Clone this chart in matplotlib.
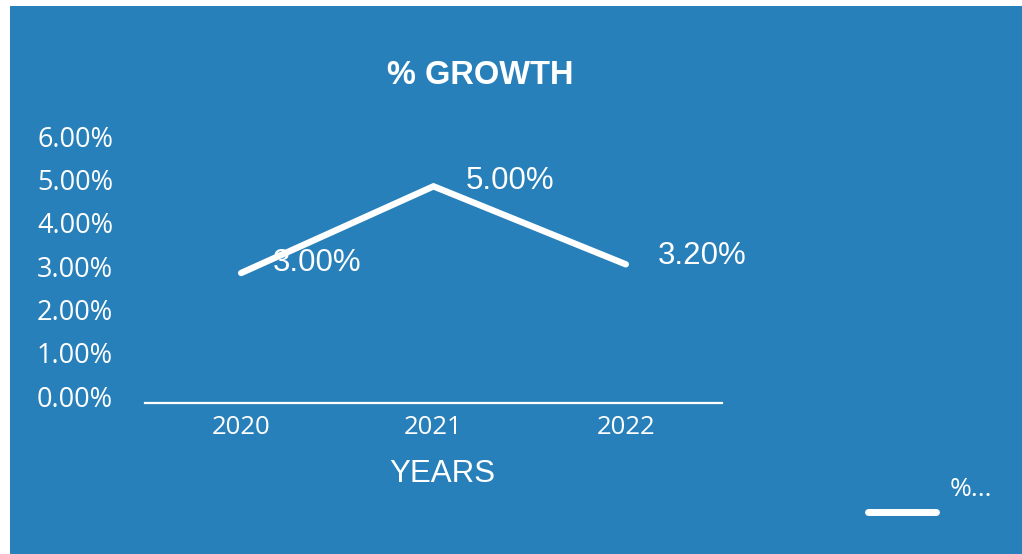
import matplotlib
matplotlib.use("Agg")
import matplotlib.pyplot as plt
from matplotlib.patches import Rectangle
from matplotlib.ticker import FuncFormatter
from matplotlib.transforms import ScaledTranslation
from matplotlib.legend_handler import HandlerLine2D

years = ["2020", "2021", "2022"]
growth = [3.00, 5.00, 3.20]
growth_labels = ["3.00%", "5.00%", "3.20%"]
y_ticks = [0, 1, 2, 3, 4, 5, 6]
series_name = "%..."

BLUE = "#2880BA"
W = 1022
H = 554
fig = plt.figure(figsize=(W / 100, H / 100), dpi=100, facecolor="white")
bg = Rectangle((10 / W, 0), 1 - 10 / W, 1 - 6 / H,
               transform=fig.transFigure, facecolor=BLUE,
               edgecolor="none", zorder=-10)
fig.add_artist(bg)

ax = fig.add_axes([145 / W, 1 - 403 / H, (722 - 145) / W, (403 - 143) / H])
ax.set_zorder(1)
ax.set_facecolor("none")
x = list(range(len(years)))
ax.plot(x, growth, color="white", lw=4.6, solid_capstyle="round",
        solid_joinstyle="miter", label=series_name)
ax.set_xlim(-0.5, len(years) - 0.5)
ax.set_ylim(0, 6)
ax.set_yticks(y_ticks)
ax.yaxis.set_major_formatter(FuncFormatter(lambda v, p: f"{v:.2f}%"))
ax.set_xticks(x)
ax.set_xticklabels(years)

for s in ["top", "right", "left"]:
    ax.spines[s].set_visible(False)
ax.spines["bottom"].set_color("white")
ax.spines["bottom"].set_linewidth(1.6)
ax.tick_params(axis="both", length=0, colors="white")
ax.tick_params(axis="y", pad=23)
ax.tick_params(axis="x", pad=9)
for t in ax.get_yticklabels():
    t.set_fontfamily("Open Sans")
    t.set_fontsize(19.5)
    t.set_transform(t.get_transform() + ScaledTranslation(0, 5 / 72, fig.dpi_scale_trans))
for t in ax.get_xticklabels():
    t.set_fontfamily("Open Sans")
    t.set_fontsize(18.5)

ax.set_xlabel("YEARS", color="white", fontsize=22.5, family="Liberation Sans")
ax.xaxis.set_label_coords(0.516, -0.215)

offsets = [(23, 7), (23, 4), (23, 6)]
for xi, yi, lab, off in zip(x, growth, growth_labels, offsets):
    ax.annotate(lab, (xi, yi), xytext=off, textcoords="offset points",
                color="white", fontsize=22.5, family="Liberation Sans",
                ha="left", va="center")

fig.text(480 / W, 1 - 75 / H, "% GROWTH", color="white", fontsize=23.5,
         fontweight="bold", family="Liberation Sans", ha="center", va="center")


class LowLine(HandlerLine2D):
    def create_artists(self, legend, orig_handle, xdescent, ydescent, width,
                       height, fontsize, trans):
        arts = super().create_artists(legend, orig_handle, xdescent, ydescent,
                                      width, height, fontsize, trans)
        for a in arts:
            a.set_ydata([v - 17.5 for v in a.get_ydata()])
        return arts


leg = fig.legend(loc="center left", bbox_to_anchor=(844 / W, 1 - 490 / H),
                 frameon=False, handlelength=2.6, handletextpad=0.5,
                 prop={"family": "Open Sans", "size": 19},
                 handler_map={matplotlib.lines.Line2D: LowLine()})
for t in leg.get_texts():
    t.set_color("white")
for h in leg.get_lines():
    h.set_linewidth(5)

fig.savefig("out.png", dpi=100, facecolor="white")
